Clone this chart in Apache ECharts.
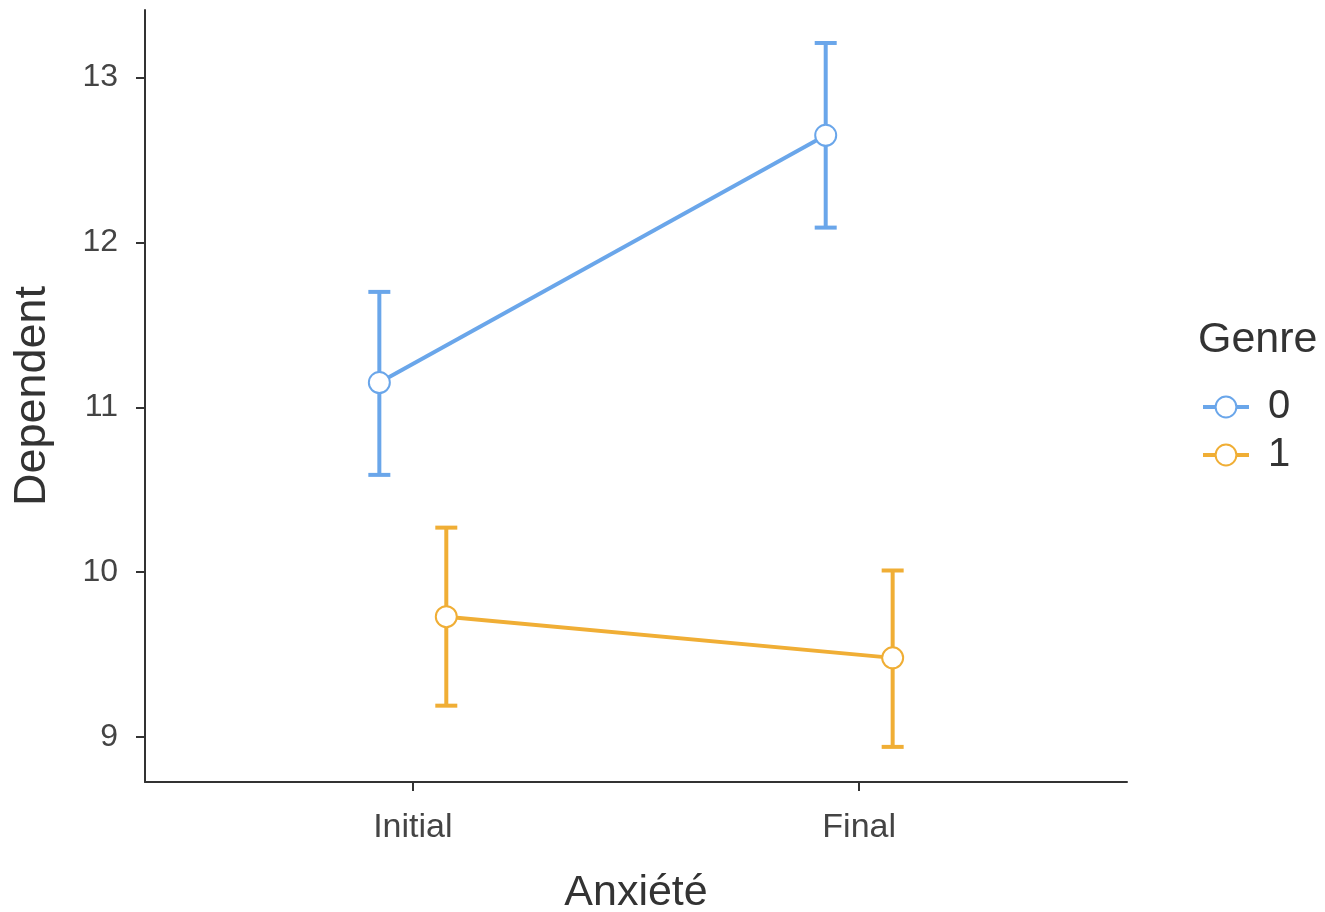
<!DOCTYPE html>
<html>
<head>
<meta charset="utf-8">
<script src="https://cdn.jsdelivr.net/npm/echarts@6/dist/echarts.min.js"></script>
<style>html,body{margin:0;padding:0;background:#fff}#c{width:1325px;height:912px}</style>
</head>
<body>
<div id="c"></div>
<script>
const categories = ['Initial', 'Final'];
const groups = ['0', '1'];
const means0 = [11.15, 12.65];
const lower0 = [10.59, 12.09];
const upper0 = [11.70, 13.21];
const means1 = [9.73, 9.48];
const lower1 = [9.19, 8.94];
const upper1 = [10.27, 10.01];
const yTicks = [9, 10, 11, 12, 13];
const xTicks = [1, 2];

const colors = ['#6aa6ea', '#f0ae35'];
const dodge = [-0.075, 0.075];
const FONT = 'Liberation Sans, Arial, Helvetica, sans-serif';

const means = [means0, means1], lows = [lower0, lower1], ups = [upper0, upper1];

function lineData(g) {
  return categories.map((c, i) => [i + 1 + dodge[g], means[g][i]]);
}
function errData(g) {
  return categories.map((c, i) => [i + 1 + dodge[g], lows[g][i], ups[g][i]]);
}

function errSeries(g) {
  return {
    type: 'custom',
    z: 1,
    silent: true,
    data: errData(g),
    renderItem: function (params, api) {
      const x = api.value(0);
      const lo = api.coord([x, api.value(1)]);
      const hi = api.coord([x, api.value(2)]);
      const hw = 11;
      const st = { stroke: colors[g], lineWidth: 4, fill: null };
      return {
        type: 'group',
        children: [
          { type: 'line', shape: { x1: lo[0], y1: lo[1], x2: hi[0], y2: hi[1] }, style: st },
          { type: 'line', shape: { x1: lo[0] - hw, y1: lo[1], x2: lo[0] + hw, y2: lo[1] }, style: st },
          { type: 'line', shape: { x1: hi[0] - hw, y1: hi[1], x2: hi[0] + hw, y2: hi[1] }, style: st }
        ]
      };
    }
  };
}

function lineSeries(g) {
  return {
    type: 'line',
    name: groups[g],
    z: 3,
    data: lineData(g),
    symbol: 'circle',
    symbolSize: 21,
    lineStyle: { color: colors[g], width: 4 },
    itemStyle: { color: '#fff', borderColor: colors[g], borderWidth: 2 },
    emphasis: { disabled: true },
    animation: false
  };
}

const chart = echarts.init(document.getElementById('c'), null, { renderer: 'canvas' });
chart.setOption({
  animation: false,
  backgroundColor: '#fff',
  textStyle: { fontFamily: FONT },
  grid: { left: 145, right: 198, top: 10, bottom: 130, containLabel: false, outerBoundsMode: 'none' },
  title: {
    text: 'Genre', left: 1193, top: 314,
    textStyle: { fontFamily: FONT, fontSize: 43, fontWeight: 'normal', color: '#333' }
  },
  legend: {
    data: groups,
    orient: 'vertical',
    left: 1196, top: 382,
    itemWidth: 46, itemHeight: 26, itemGap: 8,
    lineStyle: { width: 4 },
    textStyle: { fontFamily: FONT, fontSize: 40, color: '#333', padding: [0, 0, 0, 14] }
  },
  xAxis: {
    type: 'value',
    min: 0.4, max: 2.6,
    name: 'Anxiété', nameLocation: 'middle', nameGap: 90,
    nameTextStyle: { fontFamily: FONT, fontSize: 43, color: '#333' },
    axisLine: { show: true, onZero: false, lineStyle: { color: '#333', width: 2 } },
    axisTick: { show: true, customValues: xTicks, length: 9, lineStyle: { color: '#333', width: 2 } },
    axisLabel: {
      customValues: xTicks, margin: 29,
      formatter: v => categories[Math.round(v) - 1],
      fontFamily: FONT, fontSize: 34, color: '#444'
    },
    splitLine: { show: false }
  },
  yAxis: {
    type: 'value',
    min: 8.727, max: 13.41,
    name: 'Dependent', nameLocation: 'middle', nameGap: 90,
    nameTextStyle: { fontFamily: FONT, fontSize: 45, color: '#333' },
    axisLine: { show: true, lineStyle: { color: '#333', width: 2 } },
    axisTick: { show: true, customValues: yTicks, length: 9, lineStyle: { color: '#333', width: 2 } },
    axisLabel: { customValues: yTicks, margin: 27, fontFamily: FONT, fontSize: 32, color: '#444' },
    splitLine: { show: false }
  },
  series: [errSeries(0), errSeries(1), lineSeries(0), lineSeries(1)]
});
</script>
</body>
</html>
